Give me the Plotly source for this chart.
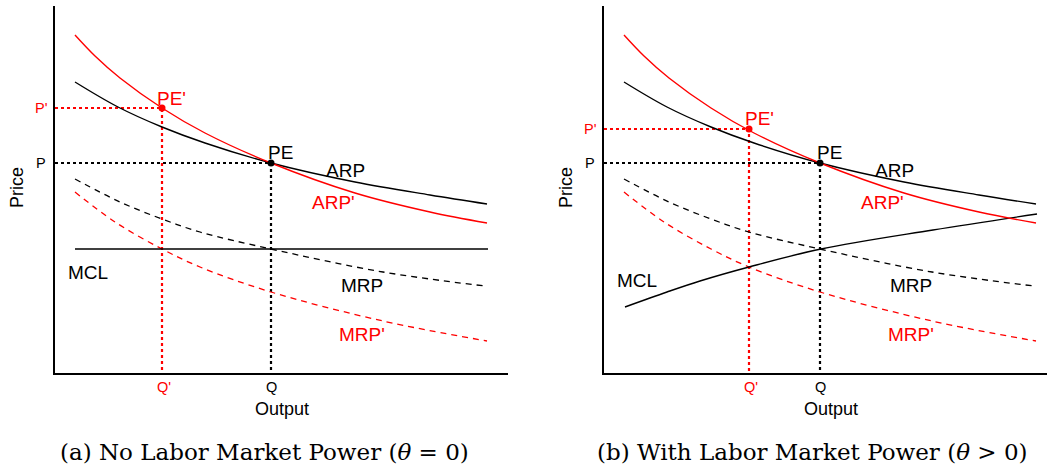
import plotly.graph_objects as go

W, H = 1047, 474

# ---- curve data (units: Output / Price offsets from each panel's origin) ----
arp_x = [20, 63, 107, 150, 216, 300, 375, 432]
arp_y = [291, 266, 246, 230, 210, 191, 178, 169]

arp2_x = [20, 40, 65, 107, 150, 216, 300, 375, 432]
arp2_y = [338, 317, 295, 265, 240, 210, 180, 161, 150]

mrp_x = [20, 65, 107, 145, 216, 328, 430]
mrp_y = [194, 171, 154, 141, 124, 101, 87]

mrp2_x = [20, 60, 107, 145, 216, 328, 432]
mrp2_y = [181, 151, 124, 106, 81, 52, 32]

mcl_a_x = [20, 433]
mcl_a_y = [124, 124]

mcl_b_x = [21, 63, 96, 145, 217, 329, 433]
mcl_b_y = [66, 81, 92, 106, 124, 143, 159]

# equilibrium points (Q, P)
pe = (216, 210)
pe2_a = (107, 265)
pe2_b = (145, 244)

captions = ["(a) No Labor Market Power (<i>θ</i> = 0)",
            "(b) With Labor Market Power (<i>θ</i> > 0)"]

SANS = "Liberation Sans, Arial, sans-serif"
SERIF = "DejaVu Serif, serif"

fig = go.Figure()

# axis geometry (pixels)
Y0, YTOP = 373, 6
panels = [
    dict(x0=55, x1=508, xa="x", ya="y", mcl=(mcl_a_x, mcl_a_y), pe2=pe2_a,
         mcl_lab=(33, 101), cap=captions[0], capx=264),
    dict(x0=604, x1=1047, xa="x2", ya="y2", mcl=(mcl_b_x, mcl_b_y), pe2=pe2_b,
         mcl_lab=(33, 93), cap=captions[1], capx=812),
]

annotations = []
for p in panels:
    xa, ya, x0 = p["xa"], p["ya"], p["x0"]

    def line(x, y, color, width, dash=None, shape="spline"):
        fig.add_trace(go.Scatter(x=x, y=y, mode="lines", xaxis=xa, yaxis=ya,
                                 line=dict(color=color, width=width, dash=dash, shape=shape),
                                 showlegend=False, hoverinfo="skip"))
    q2, p2 = p["pe2"]
    # dotted guide lines
    line([0, pe[0], pe[0]], [pe[1], pe[1], 0], "black", 2.2, "dot", "linear")
    line([0, q2, q2], [p2, p2, 0], "red", 2.2, "dot", "linear")
    # curves
    line(mrp_x, mrp_y, "black", 1.3, "6px,5px")
    line(mrp2_x, mrp2_y, "red", 1.3, "6px,5px")
    line(p["mcl"][0], p["mcl"][1], "black", 1.4)
    line(arp_x, arp_y, "black", 1.4)
    line(arp2_x, arp2_y, "red", 1.4)
    # points
    fig.add_trace(go.Scatter(x=[pe[0]], y=[pe[1]], mode="markers", xaxis=xa, yaxis=ya,
                             marker=dict(color="black", size=7), showlegend=False, hoverinfo="skip"))
    fig.add_trace(go.Scatter(x=[q2], y=[p2], mode="markers", xaxis=xa, yaxis=ya,
                             marker=dict(color="red", size=7), showlegend=False, hoverinfo="skip"))

    def ann(dx, dy, text, color="black", size=19, **kw):
        # position given as offsets from the panel origin, placed in paper space
        annotations.append(dict(x=(x0 + dx) / W, y=1 - (Y0 - dy) / H, xref="paper", yref="paper",
                                xanchor="center", yanchor="middle", text=text, showarrow=False,
                                font=dict(family=SANS, size=size, color=color), **kw))
    ann(-14, p2, "P'", "red", 14.5)
    ann(-14, pe[1], "P", "black", 14.5)
    ann(q2 + 10, p2 + 10, "PE'", "red")
    ann(pe[0] + 9, pe[1] + 11, "PE")
    ann(290, 203, "ARP")
    ann(278, 171, "ARP'", "red")
    ann(p["mcl_lab"][0], p["mcl_lab"][1], "MCL")
    ann(307, 88, "MRP")
    ann(307, 39, "MRP'", "red")
    ann(q2 + 2, -14, "Q'", "red", 14.5)
    ann(pe[0], -14, "Q", "black", 14.5)
    ann(pe[0] + 11, -36, "Output", "black", 18)
    ann(-38, 185, "Price", "black", 18, textangle=-90)
    annotations.append(dict(x=p["capx"] / W, y=1 - 452 / H, xref="paper", yref="paper",
                            xanchor="center", yanchor="middle",
                            text=p["cap"], showarrow=False,
                            font=dict(family=SERIF, size=23, color="black")))

axis_common = dict(showline=True, linecolor="black", linewidth=2, showgrid=False,
                   zeroline=False, showticklabels=False, ticks="")
ydom = [(H - Y0) / H, (H - YTOP) / H]
fig.update_layout(
    width=W, height=H, margin=dict(l=0, r=0, t=0, b=0),
    paper_bgcolor="white", plot_bgcolor="white",
    xaxis=dict(domain=[55 / W, 508 / W], range=[0, 453], **axis_common),
    yaxis=dict(domain=ydom, range=[0, Y0 - YTOP], **axis_common),
    xaxis2=dict(domain=[604 / W, 1.0], range=[0, 443], anchor="y2", **axis_common),
    yaxis2=dict(domain=ydom, range=[0, Y0 - YTOP], anchor="x2", **axis_common),
    annotations=annotations,
)
fig.write_html("out.html", config={"displayModeBar": False},
               post_script="document.body.style.margin='0px';")
